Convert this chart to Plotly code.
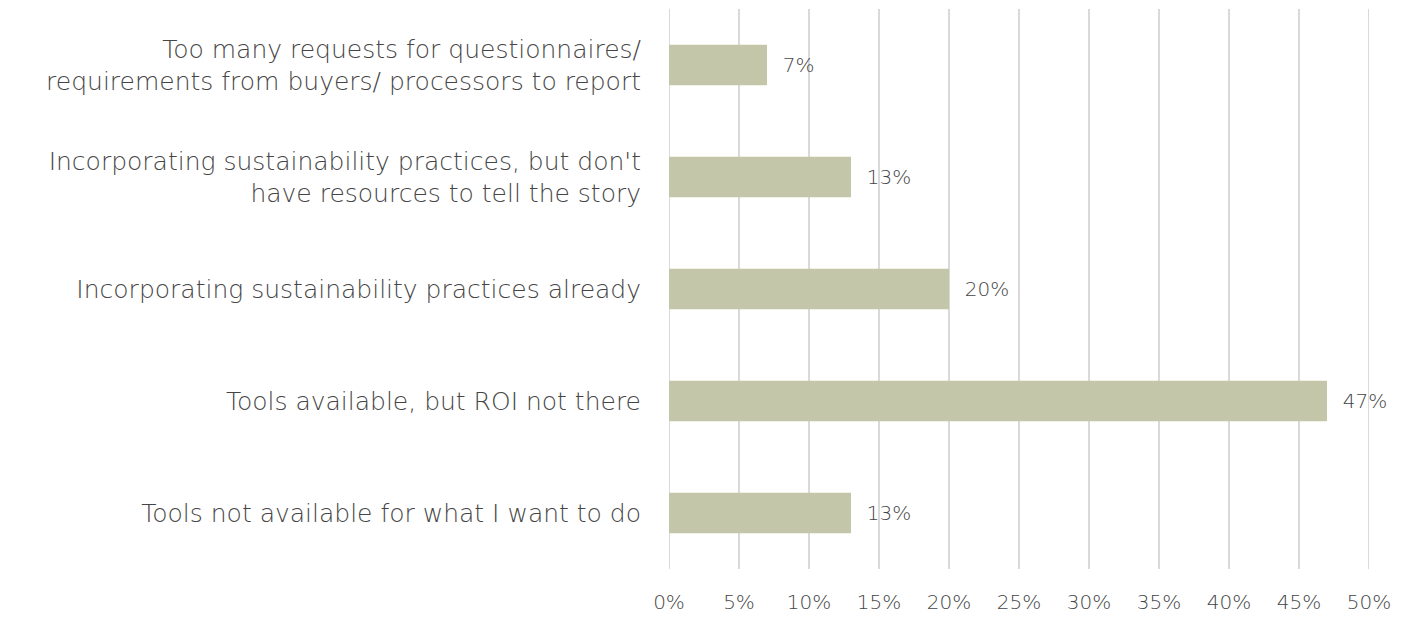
import plotly.graph_objects as go

categories = [
    "Tools not available for what I want to do",
    "Tools available, but ROI not there",
    "Incorporating sustainability practices already",
    "Incorporating sustainability practices, but don't<br>have resources to tell the story",
    "Too many requests for questionnaires/<br>requirements from buyers/ processors to report",
]
values = [0.13, 0.47, 0.20, 0.13, 0.07]
tick_vals = [0, 0.05, 0.10, 0.15, 0.20, 0.25, 0.30, 0.35, 0.40, 0.45, 0.50]
tick_text = ["0%", "5%", "10%", "15%", "20%", "25%", "30%", "35%", "40%", "45%", "50%"]
labels = [f"{round(v*100)}%" for v in values]

FONT = "DejaVu Sans"
TXT = "#454545"
GRID = "#D9D9D9"

fig = go.Figure(go.Bar(
    x=values, y=categories, orientation="h",
    marker=dict(color="#C3C6A8", line=dict(width=0)),
    width=0.36,
    text=labels, textposition="outside",
    texttemplate="  %{text}",
    textfont=dict(family=FONT, size=20, color=TXT, weight=200),
    cliponaxis=False,
))

# edge gridlines (plotly drops gridlines lying on the plot-area edges)
for v in (tick_vals[0], tick_vals[-1]):
    fig.add_shape(type="line", xref="x", yref="paper", x0=v, x1=v, y0=0, y1=1,
                  line=dict(color=GRID, width=2), layer="below")

fig.update_layout(
    width=1408, height=617,
    margin=dict(l=661, r=47, t=1, b=56),
    plot_bgcolor="white", paper_bgcolor="white",
    showlegend=False,
    font=dict(family=FONT, color=TXT),
    xaxis=dict(
        range=[tick_vals[0], tick_vals[-1]], tickvals=tick_vals, ticktext=tick_text,
        showgrid=True, gridcolor=GRID, gridwidth=2,
        zeroline=False, showline=False,
        tickfont=dict(family=FONT, size=20, color=TXT, weight=200),
        ticks="", ticklabelstandoff=19,
    ),
    yaxis=dict(
        showgrid=False, zeroline=False, showline=False,
        tickfont=dict(family=FONT, size=25, color=TXT, weight=200),
        ticks="", ticklabelstandoff=27,
    ),
)

fig.write_html("out.html")
